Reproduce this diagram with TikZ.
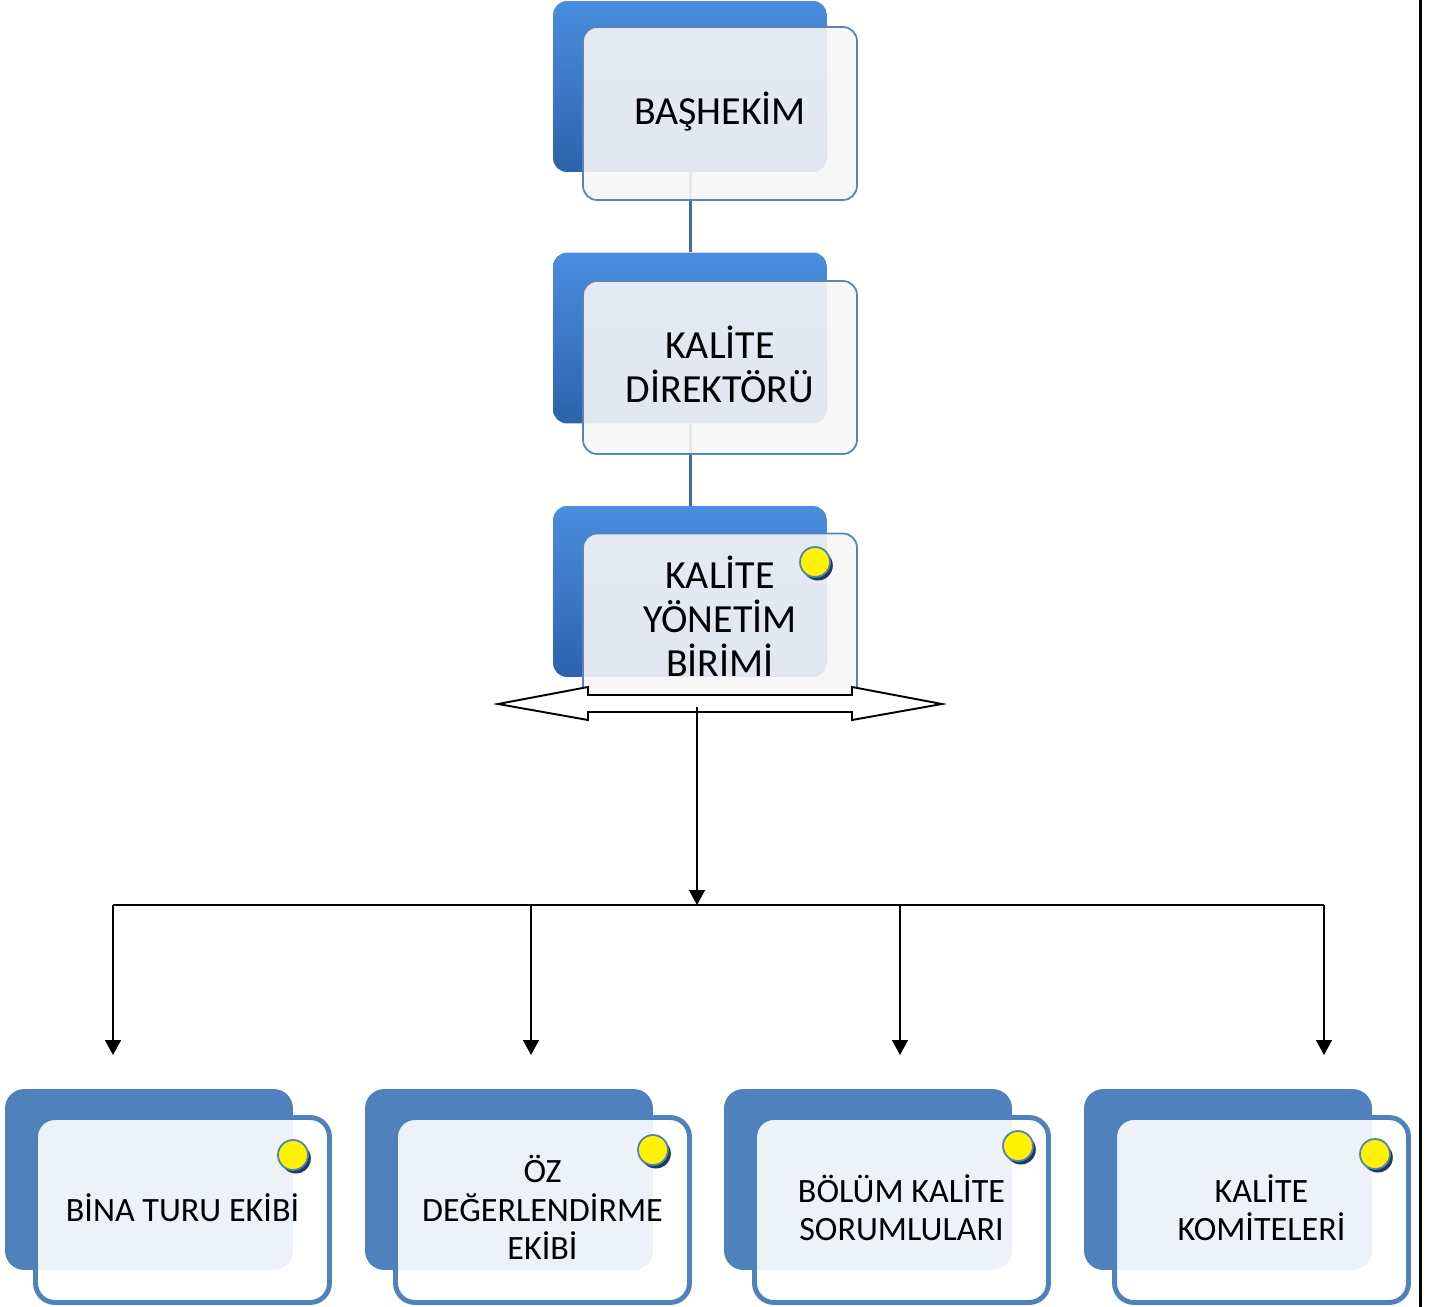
\documentclass[tikz,border=0pt]{standalone}
\usepackage{fontspec}
\setmainfont{Carlito}
\usetikzlibrary{arrows.meta,shadows}

\definecolor{topblue}{HTML}{4A8EDF}
\definecolor{botblue}{HTML}{2D62AC}
\definecolor{midblue}{HTML}{4F81BD}
\definecolor{edgeblue}{HTML}{5B82B9}
\definecolor{linkblue}{HTML}{3E6DAB}
\definecolor{shadowblue}{HTML}{1F3864}

\tikzset{
  backbox/.style={rounded corners=8pt, top color=topblue, bottom color=botblue,
    minimum width=5.48cm, minimum height=3.42cm, inner sep=0pt},
  frontbox/.style={rounded corners=8pt, draw=edgeblue, line width=1pt, fill=gray!7,
    fill opacity=0.9, text opacity=1, minimum width=5.48cm, minimum height=3.46cm,
    align=center, text depth=4pt, font=\fontsize{22.7}{25}\selectfont},
  lowback/.style={rounded corners=11pt, fill=midblue, minimum width=5.76cm,
    minimum height=3.62cm, inner sep=0pt},
  lowfront/.style={rounded corners=11pt, draw=midblue, line width=2.8pt, fill=white,
    fill opacity=0.9, text opacity=1, minimum width=5.88cm, minimum height=3.7cm,
    align=center, text depth=2.8pt, font=\fontsize{19.4}{22}\selectfont},
  dot/.style={circle, fill=yellow, draw=midblue, line width=1pt, minimum size=0.6cm,
    inner sep=0pt, drop shadow={shadow xshift=1.6pt, shadow yshift=-2pt,
    fill=shadowblue, opacity=1}},
  link/.style={draw=linkblue, line width=1.7pt},
  arr/.style={-{Triangle[length=8.5pt,width=9pt]}, line width=1.1pt}
}

\begin{document}
\begin{tikzpicture}[x=0.02cm,y=-0.02cm]
  \useasboundingbox (0,0) rectangle (1434,1307);

  % upper chain
  \node[backbox] (b0) at (690,86.5) {};
  \node[backbox] (b1) at (690,338) {};
  \node[backbox] (b2) at (690,591.5) {};
  \draw[link] (b0.south) -- (b1.north);
  \draw[link] (b1.south) -- (b2.north);
  \node[frontbox, text depth=6.5pt] (f0) at (720,113.5) {BAŞHEKİM};
  \node[frontbox] (f1) at (720,367.5) {KALİTE\\DİREKTÖRÜ};
  \node[frontbox] (f2) at (720,620) {KALİTE\\YÖNETİM\\BİRİMİ};
  \node[dot] (d) at (815,562) {};

  % double arrow under the unit
  \draw[line width=1.1pt, fill=white] (498,704) -- (588,687) -- (588,695) -- (852,695)
    -- (852,687) -- (942,704) -- (852,720) -- (852,712) -- (588,712) -- (588,720) -- cycle;
  \coordinate (hub) at (697,707);
  \coordinate (mid) at (697,905);
  \draw[arr] (hub) -- (mid);

  % branch line
  \coordinate (j0) at (113,905);
  \coordinate (j3) at (1324,905);
  \draw[line width=1.1pt] (j0) -- (j3);
  \foreach \i/\ax in {0/113,1/531,2/900,3/1324} {
    \coordinate (s\i) at (\ax,905);
    \coordinate (e\i) at (\ax,1055);
    \draw[arr] (s\i) -- (e\i);
  }

  % lower boxes
  \foreach \i/\dx/\txt/\px/\py in {0/0/{BİNA TURU EKİBİ}/293/1155,
      1/360/{ÖZ\\DEĞERLENDİRME\\EKİBİ}/653/1150,
      2/719/{BÖLÜM KALİTE\\SORUMLULARI}/1018/1146,
      3/1079/{KALİTE\\KOMİTELERİ}/1375/1154} {
    \node[lowback] (lb\i) at (149+\dx,1179.5) {};
    \node[lowfront] (lf\i) at (182.5+\dx,1210) {\txt};
    \node[dot] (ld\i) at (\px,\py) {};
  }

  % right frame line
  \coordinate (rt) at (1420,0);
  \coordinate (rb) at (1420,1307);
  \draw[line width=1.7pt] (rt) -- (rb);
\end{tikzpicture}
\end{document}
